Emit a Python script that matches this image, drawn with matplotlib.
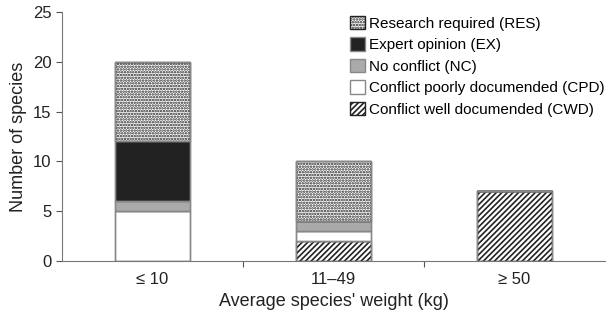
import numpy as np
import matplotlib.pyplot as plt

plt.rcParams['font.family'] = ['Liberation Sans', 'DejaVu Sans']
plt.rcParams['hatch.linewidth'] = 1.2

categories = ['\u2264 10', '11\u201349', '\u2265 50']
cwd = [0, 2, 7]
cpd = [5, 1, 0]
nc = [1, 1, 0]
ex = [6, 0, 0]
res = [8, 6, 0]

labels = ['Conflict well documended (CWD)', 'Conflict poorly documended (CPD)',
          'No conflict (NC)', 'Expert opinion (EX)', 'Research required (RES)']
series = [cwd, cpd, nc, ex, res]
colors = ['white', 'white', '#aaaaaa', '#222222', 'white']
hatches = ['//////', None, None, None, '......']

fig = plt.figure(figsize=(6.08, 3.16), dpi=100)
ax = fig.add_axes([0.102, 0.174, 0.893, 0.788])

x = np.arange(len(categories))
bottom = np.zeros(len(categories))
handles = []
for vals, lab, col, h in zip(series, labels, colors, hatches):
    b = ax.bar(x, vals, 0.41, bottom=bottom, color=col, hatch=h,
               edgecolor='#222222' if h else '#888888', linewidth=1.0, label=lab)
    # outline in gray
    ax.bar(x, vals, 0.41, bottom=bottom, fill=False, edgecolor='#888888', linewidth=1.0)
    handles.append(b)
    bottom += np.array(vals)

ax.set_xlim(-0.5, 2.5)
ax.set_ylim(0, 25)
ax.set_yticks([0, 5, 10, 15, 20, 25])
ax.set_xticks([0.5, 1.5])
ax.set_xticklabels([])
ax.set_xticks(x, minor=True)
ax.set_xticklabels(categories, minor=True)
ax.tick_params(axis='x', which='minor', length=0, pad=8)
ax.tick_params(axis='x', which='major', length=4, direction='out', color='#555555')
ax.tick_params(axis='y', length=4, color='#555555')
ax.tick_params(which='both', labelsize=12, labelcolor='#222222')
for s in ['top', 'right']:
    ax.spines[s].set_visible(False)
for s in ['left', 'bottom']:
    ax.spines[s].set_color('#777777')
ax.set_ylabel('Number of species', fontsize=13, color='#222222')
ax.set_xlabel("Average species' weight (kg)", fontsize=13, color='#222222', labelpad=4)

leg = ax.legend(handles[::-1], labels[::-1], loc='upper left', bbox_to_anchor=(0.53, 0.985),
                borderaxespad=0, borderpad=0,
                frameon=False, fontsize=11, handlelength=1.0, handleheight=1.0,
                handletextpad=0.25, labelspacing=0.42)

fig.savefig('out.png', dpi=100)
